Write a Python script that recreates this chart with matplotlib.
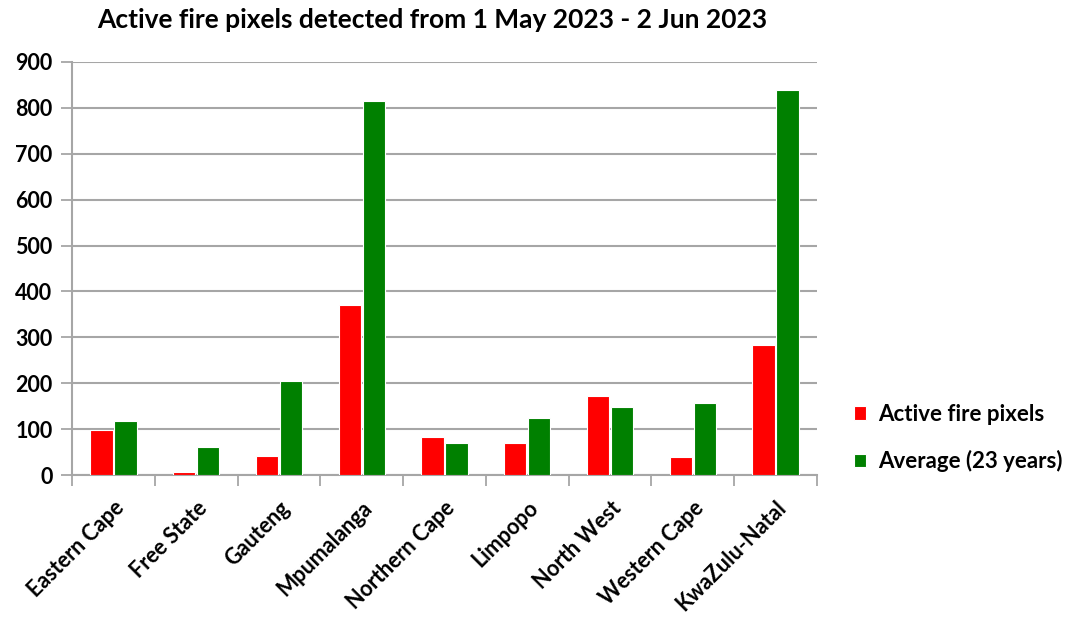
import matplotlib
matplotlib.use("Agg")
import matplotlib.pyplot as plt
import numpy as np

categories = ["Eastern Cape", "Free State", "Gauteng", "Mpumalanga", "Northern Cape",
              "Limpopo", "North West", "Western Cape", "KwaZulu-Natal"]
active_fire = [97, 6, 42, 370, 82, 69, 172, 39, 283]
average_23 = [117, 61, 204, 815, 69, 125, 148, 156, 838]
yticks = [0, 100, 200, 300, 400, 500, 600, 700, 800, 900]

plt.rcParams['font.family'] = ['Lato', 'DejaVu Sans']

fig = plt.figure(figsize=(10.77, 6.21), dpi=100)
ax = fig.add_axes([72/1077, 1-475/621, (817-72)/1077, (475-62)/621])

x = np.arange(len(categories))
w = 0.27
ax.bar(x - w/2 - 0.01, active_fire, w, color='#ff0000', edgecolor='white', linewidth=0.8,
       label='Active fire pixels', zorder=3)
ax.bar(x + w/2 + 0.01, average_23, w, color='#008000', edgecolor='white', linewidth=0.8,
       label='Average (23 years)', zorder=3)

ax.set_xlim(-0.5, len(categories) - 0.5)
ax.set_ylim(0, 900)
ax.set_yticks(yticks)
ax.set_yticklabels([str(v) for v in yticks], fontsize=15.5, fontweight='bold')
ax.yaxis.grid(True, color='#a6a6a6', linewidth=1.5, zorder=0)
ax.set_axisbelow(True)

ax.set_xticks(x)
ax.set_xticklabels(categories, rotation=45, ha='right', rotation_mode='anchor',
                   fontsize=15.5, fontweight='bold')
ax.tick_params(axis='x', which='major', length=0, pad=16)
ax.set_xticks(np.arange(-0.5, len(categories)), minor=True)
ax.tick_params(axis='x', which='minor', length=8, width=1.3, color='#a6a6a6')
ax.tick_params(axis='y', length=8, width=1.3, color='#a6a6a6', pad=6)

for s in ['top', 'right']:
    ax.spines[s].set_visible(False)
for s in ['left', 'bottom']:
    ax.spines[s].set_color('#a6a6a6')
    ax.spines[s].set_linewidth(1.5)

fig.text(432/1077, 1-20/621, 'Active fire pixels detected from 1 May 2023 - 2 Jun 2023',
         fontsize=19, fontweight='bold', ha='center', va='center')

leg = fig.legend(loc='center left', bbox_to_anchor=(834/1077, 1-438/621), frameon=False,
                 handlelength=0.55, handleheight=0.55, handletextpad=0.55,
                 labelspacing=1.15, prop={'weight': 'bold', 'size': 16})

fig.savefig('out.png', dpi=100)
